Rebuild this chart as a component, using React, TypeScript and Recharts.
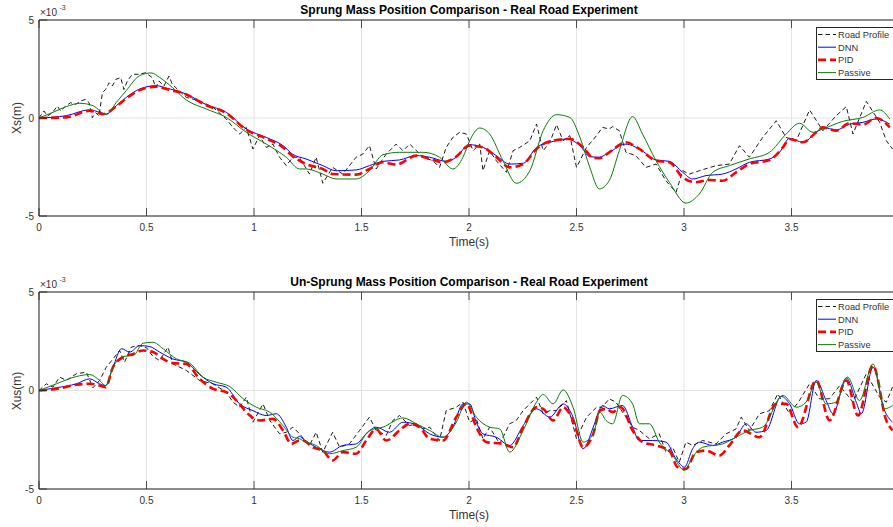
import React from "react";
import { LineChart, Line, XAxis, YAxis, CartesianGrid, ReferenceLine } from "recharts";

type Pt = [number, number];

const X_TICKS = [0, 0.5, 1, 1.5, 2, 2.5, 3, 3.5, 4];
const Y_TICKS = [-5, 0, 5];
const SERIES_NAMES = ["Road Profile", "DNN", "PID", "Passive"];

// values in units of 1e-3 m, time in s
const sprungRoad: Pt[] = [
  [0, 0], [0.023, 0.36], [0.039, 0.1], [0.062, 0.27], [0.085, 0.61], [0.1, 0.36], [0.124, 0.61], [0.147, 0.78],
  [0.171, 0.7], [0.194, 0.87], [0.217, 0.95], [0.233, 0.78], [0.248, 0.02], [0.264, 0.27], [0.279, 0.1],
  [0.295, 1.29], [0.31, 1.46], [0.326, 1.8], [0.341, 1.63], [0.357, 1.97], [0.38, 2.06], [0.395, 1.45],
  [0.411, 1.89], [0.434, 2.23], [0.465, 2.23], [0.496, 2.31], [0.527, 2.06], [0.543, 1.55], [0.558, 1.89],
  [0.581, 1.63], [0.605, 2.14], [0.62, 1.72], [0.643, 1.48],
  [0.685, 1.05], [0.747, 0.88], [0.81, 0.54], [0.871, -0.05], [0.902, -0.48], [0.933, -0.82], [0.964, -0.48],
  [0.995, -1.58], [1.026, -0.9], [1.057, -1.5], [1.088, -1.33], [1.119, -2.0], [1.15, -2.43], [1.181, -2.0],
  [1.211, -2.0], [1.258, -2.86], [1.289, -2.0], [1.32, -3.33], [1.366, -2.52], [1.413, -2.86], [1.475, -2.0],
  [1.506, -1.84], [1.537, -1.41], [1.568, -2.6], [1.615, -1.84], [1.661, -1.33], [1.693, -1.67], [1.724, -1.33],
  [1.786, -2.0], [1.832, -2.18], [1.863, -2.52], [1.894, -1.5], [1.925, -0.99], [1.957, -0.73], [1.988, -0.82],
  [2.019, -1.67], [2.05, -1.33], [2.065, -2.69], [2.096, -1.67], [2.127, -2.18], [2.174, -2.77], [2.205, -1.67],
  [2.236, -1.5], [2.283, -1.16], [2.314, -0.31], [2.345, -1.67], [2.376, -1.24], [2.407, -0.34], [2.438, -1.16],
  [2.469, -0.9], [2.5, -2.52], [2.547, -1.5], [2.593, -0.9], [2.621, -0.48], [2.652, -0.56], [2.668, -0.44],
  [2.699, -0.65], [2.73, -1.75], [2.776, -1.92], [2.823, -2.52], [2.87, -2.35], [2.916, -3.2], [2.963, -3.79],
  [2.994, -2.69], [3.025, -2.86], [3.071, -2.69], [3.149, -2.43], [3.211, -2.35], [3.258, -1.41], [3.304, -2.0],
  [3.366, -0.99], [3.429, -0.14], [3.475, -0.99], [3.522, -1.16], [3.584, 0.41], [3.646, -0.65], [3.708, 0.12],
  [3.755, 0.58], [3.786, -0.82], [3.848, 0.85], [3.91, -0.22], [3.941, -1.16], [3.97, -1.58],
];

const sprungDnn: Pt[] = [
  [0, 0], [0.127, 0.12], [0.236, 0.42], [0.282, 0.29], [0.31, 0.2], [0.36, 0.63], [0.406, 1.05], [0.468, 1.48],
  [0.546, 1.65], [0.591, 1.53], [0.685, 1.22], [0.778, 0.68], [0.871, 0.29], [0.964, -0.56], [1.057, -0.99],
  [1.135, -1.41], [1.18, -1.85], [1.242, -2.09], [1.32, -2.43], [1.382, -2.69], [1.475, -2.65], [1.537, -2.43],
  [1.6, -2.21], [1.677, -2.14], [1.755, -1.92], [1.817, -2.0], [1.894, -2.21], [1.941, -2.0], [2.0, -1.36],
  [2.065, -1.5], [2.127, -1.92], [2.189, -2.35], [2.252, -2.31], [2.314, -1.5], [2.376, -1.24], [2.453, -1.07],
  [2.516, -1.41], [2.562, -1.97], [2.606, -2.0], [2.652, -1.75], [2.73, -1.33], [2.792, -1.58], [2.87, -2.14],
  [2.932, -2.21], [2.994, -2.77], [3.04, -3.11], [3.102, -2.94], [3.18, -2.86], [3.242, -2.6], [3.304, -2.26],
  [3.398, -2.09], [3.444, -1.75], [3.491, -1.04], [3.553, -1.24], [3.615, -0.73], [3.646, -0.48], [3.708, -0.61],
  [3.77, -0.31], [3.832, -0.22], [3.894, -0.05], [3.957, -0.31],
];

const sprungPid: Pt[] = [
  [0, 0], [0.127, 0.03], [0.236, 0.37], [0.298, 0.2], [0.36, 0.6], [0.406, 1.0], [0.468, 1.42], [0.546, 1.6],
  [0.591, 1.48], [0.685, 1.2], [0.778, 0.65], [0.871, 0.25], [0.964, -0.6], [1.057, -1.05], [1.135, -1.5],
  [1.18, -1.95], [1.242, -2.35], [1.32, -2.6], [1.366, -2.86], [1.475, -2.89], [1.537, -2.6], [1.6, -2.26],
  [1.661, -2.38], [1.755, -1.92], [1.817, -2.09], [1.879, -2.26], [1.941, -1.97], [2.0, -1.41], [2.065, -1.5],
  [2.127, -2.0], [2.189, -2.52], [2.252, -2.35], [2.314, -1.58], [2.376, -1.19], [2.469, -1.07], [2.531, -1.5],
  [2.578, -2.04], [2.606, -2.05], [2.652, -1.75], [2.73, -1.24], [2.792, -1.58], [2.87, -2.18], [2.932, -2.26],
  [2.994, -3.03], [3.056, -3.28], [3.118, -3.16], [3.18, -3.2], [3.242, -2.77], [3.304, -2.35], [3.398, -2.14],
  [3.46, -1.5], [3.491, -1.07], [3.553, -1.24], [3.615, -0.73], [3.646, -0.48], [3.708, -0.65], [3.77, -0.27],
  [3.832, -0.34], [3.894, 0], [3.957, -0.48],
];

const sprungPassive: Pt[] = [
  [0, 0], [0.065, 0.29], [0.127, 0.58], [0.19, 0.75], [0.251, 0.63], [0.313, 0.17], [0.36, 0.8], [0.406, 1.4],
  [0.468, 2.16], [0.522, 2.3], [0.561, 2.07], [0.623, 1.53], [0.685, 0.92], [0.778, 0.46], [0.871, 0.03],
  [0.964, -0.73], [1.057, -1.33], [1.15, -2.0], [1.212, -2.6], [1.242, -2.6], [1.32, -2.86], [1.382, -3.11],
  [1.475, -3.11], [1.537, -2.69], [1.6, -1.87], [1.677, -1.75], [1.786, -1.75], [1.863, -2.0], [1.925, -2.6],
  [1.972, -2.0], [2.003, -1.16], [2.05, -0.51], [2.096, -0.82], [2.158, -2.18], [2.22, -3.33], [2.283, -2.69],
  [2.345, -0.65], [2.407, 0.17], [2.469, 0.03], [2.516, -0.99], [2.562, -2.52], [2.606, -3.62], [2.652, -3.2],
  [2.699, -1.67], [2.761, 0.07], [2.807, -0.82], [2.87, -2.18], [2.932, -3.28], [3.009, -4.34], [3.071, -3.88],
  [3.134, -2.77], [3.211, -2.43], [3.304, -2.09], [3.398, -1.75], [3.475, -0.82], [3.537, -0.27], [3.6, -0.73],
  [3.646, -0.56], [3.739, -0.17], [3.832, 0.03], [3.91, 0.41], [3.957, -0.05],
];

const unsprungRoad: Pt[] = [
  [0, 0], [0.034, 0.34], [0.065, 0.17], [0.096, 0.68], [0.127, 0.51], [0.174, 0.85], [0.22, 0.93], [0.251, 0.14],
  [0.282, 0.51], [0.313, 1.18], [0.344, 1.6], [0.375, 2.03], [0.398, 1.44], [0.429, 2.2], [0.468, 2.28], [0.5, 2.17],
  [0.53, 1.73], [0.561, 1.52], [0.6, 2.2], [0.623, 1.35], [0.685, 1.02], [0.747, 0.51], [0.809, 0.34], [0.871, -0.08],
  [0.902, -0.59], [0.933, -0.85], [0.964, -0.34], [0.995, -1.61], [1.042, -0.68], [1.073, -1.52], [1.119, -2.2],
  [1.15, -2.12], [1.181, -1.86], [1.212, -2.2], [1.258, -2.79], [1.289, -2.12], [1.32, -3.13], [1.366, -2.12],
  [1.398, -2.88], [1.444, -2.71], [1.491, -2.03], [1.537, -1.35], [1.568, -2.03], [1.615, -2.28], [1.646, -1.52],
  [1.677, -1.27], [1.724, -1.78], [1.755, -1.69], [1.786, -1.95], [1.817, -1.86], [1.863, -2.54], [1.894, -1.02],
  [1.941, -0.85], [1.972, -0.59], [2.003, -1.61], [2.034, -1.44], [2.065, -2.45], [2.096, -1.86], [2.143, -2.71],
  [2.189, -1.69], [2.22, -1.52], [2.252, -1.02], [2.314, -0.34], [2.345, -1.18], [2.376, -1.02], [2.407, -1.02],
  [2.453, -0.51], [2.5, -2.45], [2.547, -1.35], [2.593, -0.85], [2.621, -0.85], [2.652, -0.42], [2.683, -0.59],
  [2.73, -1.35], [2.761, -1.86], [2.792, -2.03], [2.839, -2.45], [2.885, -2.2], [2.916, -3.13], [2.947, -2.88],
  [2.978, -3.64], [3.009, -2.62], [3.04, -2.79], [3.087, -2.54], [3.149, -2.71], [3.196, -2.2], [3.242, -1.95],
  [3.266, -1.35], [3.304, -2.03], [3.351, -1.18], [3.398, -1.02], [3.436, -0.17], [3.491, -1.18], [3.537, -0.51],
  [3.584, 0.34], [3.63, -0.42], [3.677, -0.42], [3.724, 0.25], [3.786, -0.59], [3.848, 0.85], [3.91, -0.34],
  [3.941, -0.59], [3.97, 0.17],
];

const unsprungDnn: Pt[] = [
  [0, 0], [0.081, 0.14], [0.174, 0.34], [0.236, 0.59], [0.282, 0.34], [0.31, 0.25], [0.344, 1.18], [0.384, 2.12],
  [0.422, 1.95], [0.468, 2.28], [0.515, 2.23], [0.561, 1.95], [0.623, 1.6], [0.685, 1.44], [0.747, 0.81],
  [0.81, 0.34], [0.871, 0.17], [0.933, -0.68], [0.995, -1.02], [1.057, -1.27], [1.104, -1.18], [1.15, -1.86],
  [1.181, -2.54], [1.212, -2.33], [1.227, -2.45], [1.289, -2.88], [1.351, -3.13], [1.413, -2.79], [1.475, -2.71],
  [1.522, -2.2], [1.568, -1.86], [1.63, -2.12], [1.693, -1.61], [1.755, -1.73], [1.817, -2.2], [1.879, -2.37],
  [1.925, -1.86], [1.972, -0.68], [2.003, -0.68], [2.034, -1.61], [2.065, -2.2], [2.127, -2.37], [2.189, -2.79],
  [2.252, -1.78], [2.314, -0.93], [2.376, -1.35], [2.438, -0.68], [2.484, -1.35], [2.531, -2.96], [2.578, -1.86],
  [2.609, -0.93], [2.621, -0.76], [2.652, -0.93], [2.714, -0.76], [2.761, -1.86], [2.792, -2.54], [2.854, -2.54],
  [2.916, -2.62], [2.963, -3.47], [3.002, -3.89], [3.04, -2.96], [3.071, -2.62], [3.134, -2.79], [3.18, -2.62],
  [3.242, -2.37], [3.289, -1.69], [3.335, -2.12], [3.382, -2.03], [3.452, -0.3], [3.491, -0.68], [3.537, -1.69],
  [3.568, -1.61], [3.615, 0.51], [3.661, -0.51], [3.693, -1.18], [3.755, 0.64], [3.801, -0.59], [3.825, -1.18],
  [3.879, 1.18], [3.933, -1.02], [3.97, -1.61],
];

const unsprungPid: Pt[] = [
  [0, 0], [0.081, 0.08], [0.174, 0.29], [0.236, 0.34], [0.282, 0.25], [0.31, 0.17], [0.344, 1.18], [0.391, 1.69],
  [0.439, 1.86], [0.484, 2.03], [0.53, 1.95], [0.577, 1.6], [0.623, 1.39], [0.685, 1.35], [0.747, 0.59],
  [0.81, 0.08], [0.871, -0.08], [0.933, -0.68], [0.964, -1.1], [1.026, -1.52], [1.088, -1.44], [1.135, -2.03],
  [1.174, -2.71], [1.212, -2.54], [1.227, -2.54], [1.273, -2.88], [1.32, -3.05], [1.366, -3.55], [1.413, -3.13],
  [1.475, -3.21], [1.522, -2.54], [1.568, -1.95], [1.615, -2.54], [1.677, -2.03], [1.724, -1.69], [1.77, -1.86],
  [1.817, -2.45], [1.879, -2.54], [1.941, -1.35], [1.988, -0.68], [2.034, -1.86], [2.081, -2.62], [2.158, -2.71],
  [2.205, -2.88], [2.252, -1.86], [2.314, -0.85], [2.345, -0.93], [2.391, -1.52], [2.438, -0.85], [2.484, -1.52],
  [2.531, -2.88], [2.578, -2.2], [2.609, -1.02], [2.637, -0.93], [2.668, -1.1], [2.706, -0.85], [2.761, -2.03],
  [2.807, -2.62], [2.87, -2.79], [2.932, -3.05], [2.97, -3.89], [3.009, -3.98], [3.056, -3.13], [3.102, -3.05],
  [3.165, -3.3], [3.211, -2.79], [3.273, -2.03], [3.351, -2.37], [3.429, -0.68], [3.475, -0.68], [3.53, -1.86],
  [3.615, 0.51], [3.677, -1.52], [3.755, 0.51], [3.809, -1.27], [3.879, 1.27], [3.941, -1.52], [3.97, -2.03],
];

const unsprungPassive: Pt[] = [
  [0, 0], [0.081, 0.34], [0.174, 0.71], [0.236, 0.81], [0.282, 0.51], [0.31, 0.25], [0.344, 1.18], [0.391, 1.73],
  [0.439, 1.78], [0.484, 2.4], [0.53, 2.45], [0.577, 2.12], [0.64, 1.6], [0.701, 1.39], [0.763, 0.68], [0.825, 0.42],
  [0.887, 0.2], [0.95, -0.42], [1.011, -0.85], [1.073, -1.1], [1.135, -1.78], [1.181, -2.37], [1.212, -2.45],
  [1.227, -2.54], [1.289, -2.79], [1.351, -3.21], [1.413, -3.05], [1.475, -2.88], [1.537, -2.03], [1.6, -1.86],
  [1.693, -1.39], [1.755, -1.69], [1.817, -2.03], [1.879, -2.37], [1.941, -1.61], [1.988, -0.59], [2.034, -1.35],
  [2.096, -1.86], [2.143, -1.95], [2.189, -3.13], [2.252, -2.03], [2.314, -0.59], [2.345, -0.2], [2.391, -0.68],
  [2.438, 0.03], [2.484, -0.85], [2.531, -2.62], [2.578, -2.2], [2.609, -1.1], [2.637, -1.52], [2.668, -1.69],
  [2.714, -0.25], [2.761, -0.68], [2.792, -1.69], [2.839, -1.69], [2.885, -2.62], [2.947, -3.3], [3.002, -4.06],
  [3.04, -3.38], [3.087, -2.88], [3.18, -2.71], [3.242, -2.37], [3.304, -2.03], [3.366, -1.86], [3.46, -0.25],
  [3.522, -0.85], [3.568, -0.59], [3.615, 0.42], [3.661, -0.68], [3.708, -0.59], [3.761, 0.68], [3.816, -0.51],
  [3.879, 1.35], [3.933, -0.93], [3.97, -0.76],
];

const FONT = '"Liberation Sans", Arial, Helvetica, sans-serif';
const AXIS = "#262626";
const TEXT = "#333333";

const STYLES = [
  { color: "#000000", width: 0.9, dash: "4.5 3", type: "linear" },
  { color: "#0000ff", width: 1, dash: undefined, type: "monotone" },
  { color: "#ff0000", width: 2.6, dash: "8 4", type: "monotone" },
  { color: "#0a7d0a", width: 1, dash: undefined, type: "monotone" },
];

const toRows = (pts: Pt[]) => pts.map(([t, v]) => ({ t, v }));

const CHART_W = 910;
const PLOT_LEFT = 39;
const PLOT_RIGHT = 899;
const PLOT_TOP = 20;
const VIEW_W = 893;

function LegendBox() {
  return (
    <svg width={82} height={53} style={{ position: "absolute", left: 816, top: PLOT_TOP + 7, overflow: "visible" }}>
      <rect x={0.5} y={0.5} width={80} height={52} fill="#fff" stroke={AXIS} strokeWidth={1} />
      {SERIES_NAMES.map((name, i) => {
        const y = 7.5 + i * 12.7;
        const s = STYLES[i];
        return (
          <g key={name}>
            <line x1={2} x2={20} y1={y} y2={y} stroke={s.color} strokeWidth={s.width} strokeDasharray={s.dash} />
            <text x={22} y={y + 3.3} fontSize={9.3} fill={TEXT} fontFamily={FONT}>{name}</text>
          </g>
        );
      })}
    </svg>
  );
}

function Panel({ top, plotH, title, yLabel, series }: { top: number; plotH: number; title: string; yLabel: string; series: Pt[][] }) {
  const plotBottom = PLOT_TOP + plotH;
  const height = plotBottom + 34;

  const xTick = (props: any) => {
    const { x, payload } = props;
    return (
      <g>
        <line x1={x} x2={x} y1={plotBottom} y2={plotBottom - 8} stroke={AXIS} strokeWidth={0.8} />
        <line x1={x} x2={x} y1={PLOT_TOP} y2={PLOT_TOP + 8} stroke={AXIS} strokeWidth={0.8} />
        {/* the last tick label falls outside the cropped figure */}
        {x < VIEW_W - 10 && (
          <text x={x} y={plotBottom + 15} textAnchor="middle" fontSize={10} fill={TEXT} fontFamily={FONT}>
            {payload.value}
          </text>
        )}
      </g>
    );
  };

  const yTick = (props: any) => {
    const { y, payload } = props;
    return (
      <g>
        <line x1={PLOT_LEFT} x2={PLOT_LEFT + 8} y1={y} y2={y} stroke={AXIS} strokeWidth={0.8} />
        <text x={34} y={y + 3.5} textAnchor="end" fontSize={10} fill={TEXT} fontFamily={FONT}>
          {payload.value}
        </text>
      </g>
    );
  };

  return (
    <div style={{ position: "absolute", left: 0, top, width: CHART_W, height }}>
      <LineChart
        width={CHART_W}
        height={height}
        margin={{ top: PLOT_TOP, right: CHART_W - PLOT_RIGHT, bottom: 4, left: 9 }}
      >
        <CartesianGrid stroke="#e3e3e3" strokeWidth={1} />
        <XAxis
          type="number"
          dataKey="t"
          domain={[0, 4]}
          ticks={X_TICKS}
          interval={0}
          allowDataOverflow
          height={30}
          axisLine={{ stroke: AXIS }}
          tickLine={false}
          tick={xTick}
        />
        <YAxis
          type="number"
          domain={[-5, 5]}
          ticks={Y_TICKS}
          interval={0}
          width={30}
          axisLine={{ stroke: AXIS }}
          tickLine={false}
          tick={yTick}
        />
        <ReferenceLine y={5} stroke={AXIS} />
        {series.map((pts, i) => (
          <Line
            key={SERIES_NAMES[i]}
            data={toRows(pts)}
            dataKey="v"
            type={STYLES[i].type as any}
            stroke={STYLES[i].color}
            strokeWidth={STYLES[i].width}
            strokeDasharray={STYLES[i].dash}
            dot={false}
            isAnimationActive={false}
          />
        ))}
      </LineChart>

      <div
        style={{
          position: "absolute", left: 469, top: 4, transform: "translateX(-50%)", whiteSpace: "nowrap",
          fontFamily: FONT, fontSize: 12, fontWeight: "bold", lineHeight: "12px", color: "#000",
        }}
      >
        {title}
      </div>
      <span style={{ position: "absolute", left: 40, top: 8, fontFamily: FONT, fontSize: 10, lineHeight: "10px", color: TEXT }}>
        ×10
      </span>
      <span style={{ position: "absolute", left: 59.5, top: 4, fontFamily: FONT, fontSize: 7, lineHeight: "7px", color: TEXT }}>
        -3
      </span>
      <div
        style={{
          position: "absolute", left: 17, top: PLOT_TOP + plotH / 2, transform: "translate(-50%, -50%) rotate(-90deg)",
          whiteSpace: "nowrap", fontFamily: FONT, fontSize: 12, lineHeight: "12px", color: TEXT,
        }}
      >
        {yLabel}
      </div>
      <div
        style={{
          position: "absolute", left: 469, top: plotBottom + 20, transform: "translateX(-50%)", whiteSpace: "nowrap",
          fontFamily: FONT, fontSize: 12, lineHeight: "12px", color: TEXT,
        }}
      >
        Time(s)
      </div>
      <LegendBox />
    </div>
  );
}

export default function App() {
  return (
    <div
      style={{
        position: "absolute", left: 0, top: 0, width: VIEW_W, height: 527, overflow: "hidden", background: "#fff",
      }}
    >
      <Panel
        top={0}
        plotH={196}
        title="Sprung Mass Position Comparison - Real Road Experiment"
        yLabel="Xs(m)"
        series={[sprungRoad, sprungDnn, sprungPid, sprungPassive]}
      />
      <Panel
        top={272}
        plotH={197}
        title="Un-Sprung Mass Position Comparison - Real Road Experiment"
        yLabel="Xus(m)"
        series={[unsprungRoad, unsprungDnn, unsprungPid, unsprungPassive]}
      />
    </div>
  );
}
